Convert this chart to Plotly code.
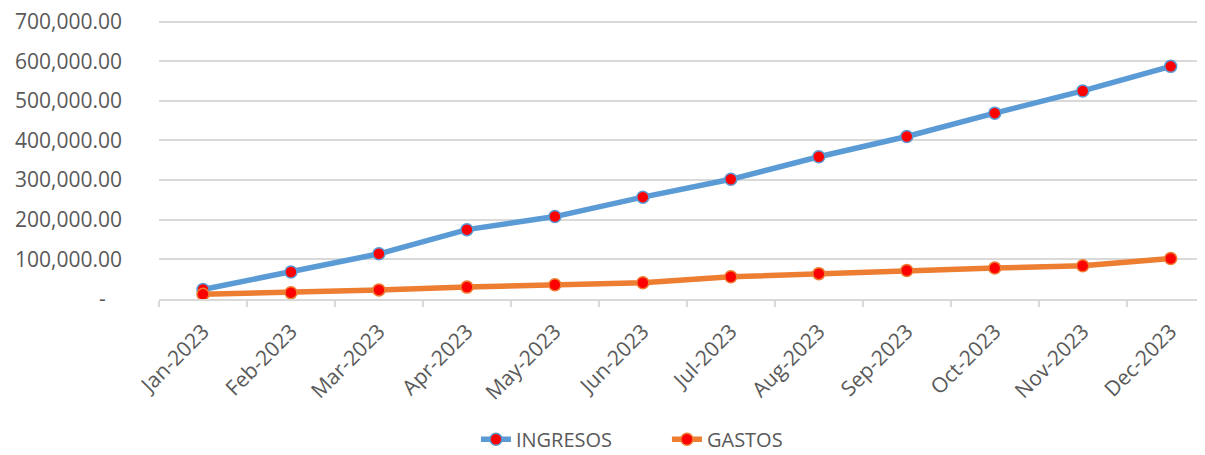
import plotly.graph_objects as go

months = ["Jan-2023", "Feb-2023", "Mar-2023", "Apr-2023", "May-2023", "Jun-2023",
          "Jul-2023", "Aug-2023", "Sep-2023", "Oct-2023", "Nov-2023", "Dec-2023"]
ingresos = [24000, 68000, 114000, 175000, 208000, 257000,
            302000, 359000, 410000, 469000, 525000, 587000]
gastos = [12000, 16000, 23000, 30000, 36000, 41000,
          56000, 64000, 72000, 78000, 84000, 102000]

y_ticks = [0, 100000, 200000, 300000, 400000, 500000, 600000, 700000]
y_labels = ["-\u00a0\u00a0\u00a0"] + [f"{v:,.2f}" for v in y_ticks[1:]]

BLUE = "#5B9BD5"
ORANGE = "#ED7D31"
GRID = "#D9D9D9"
TEXT = "#595959"

fig = go.Figure()
for name, vals, color in [("INGRESOS", ingresos, BLUE), ("GASTOS", gastos, ORANGE)]:
    fig.add_trace(
        go.Scatter(
            x=months,
            y=vals,
            name=name,
            mode="lines+markers",
            line=dict(color=color, width=5.5),
            marker=dict(color="#FF0000", size=12, line=dict(color=color, width=1.5)),
        )
    )

# page body has an 8px margin, so the figure is sized to the visible area
# autoexpand off so the legend below does not squeeze the plot
fig.update_layout(
    width=1197,
    height=447,
    margin=dict(l=151, r=0, t=12, b=156, autoexpand=False),
    plot_bgcolor="white",
    paper_bgcolor="white",
    font=dict(family="Open Sans", size=18, color=TEXT),
    legend=dict(
        orientation="h",
        x=0.303,
        xanchor="left",
        y=-0.503,
        yanchor="middle",
        font=dict(size=20, color=TEXT),
        entrywidth=146,
        borderwidth=0,
    ),
    showlegend=True,
)

fig.update_xaxes(
    type="category",
    range=[-0.5, 11.39],
    automargin=False,
    showgrid=False,
    showline=True,
    linecolor=GRID,
    linewidth=2,
    ticks="outside",
    tickson="boundaries",
    ticklen=6,
    tickcolor=GRID,
    tickwidth=2,
    tickangle=-45,
    ticklabelstandoff=10,
    tickfont=dict(size=21, color=TEXT),
)
# top a little past 700k, otherwise plotly drops the gridline at the edge
fig.update_yaxes(
    range=[0, 704000],
    automargin=False,
    tickvals=y_ticks,
    ticktext=y_labels,
    ticklabeloverflow="allow",
    showgrid=True,
    gridcolor=GRID,
    gridwidth=2,
    zeroline=False,
    showline=False,
    ticklabelstandoff=36,
    tickfont=dict(size=21, color=TEXT),
)

fig.write_html("out.html")
